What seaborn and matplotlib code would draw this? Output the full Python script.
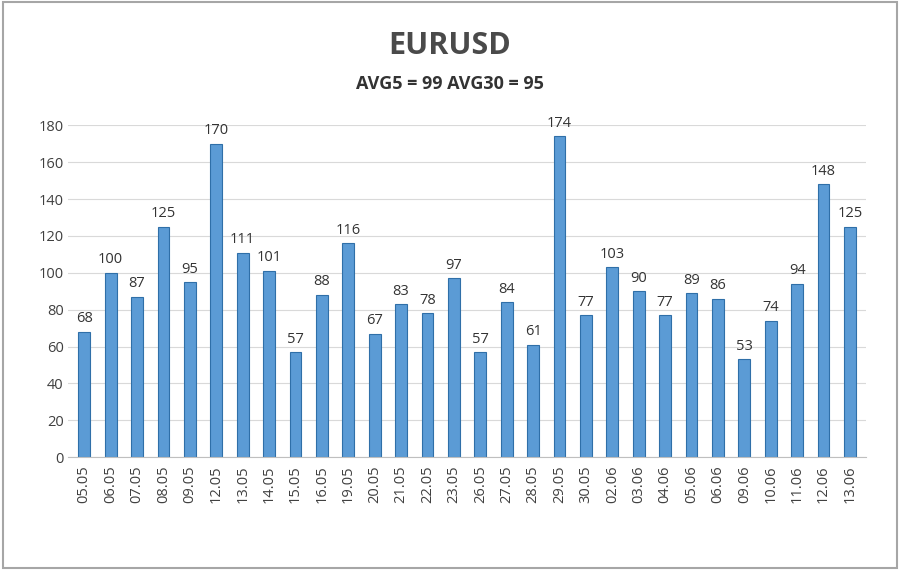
import matplotlib
matplotlib.use("Agg")
import matplotlib.pyplot as plt
import seaborn as sns
import pandas as pd
from matplotlib.patches import Rectangle

dates = ["05.05", "06.05", "07.05", "08.05", "09.05", "12.05", "13.05", "14.05", "15.05", "16.05",
         "19.05", "20.05", "21.05", "22.05", "23.05", "26.05", "27.05", "28.05", "29.05", "30.05",
         "02.06", "03.06", "04.06", "05.06", "06.06", "09.06", "10.06", "11.06", "12.06", "13.06"]
values = [68, 100, 87, 125, 95, 170, 111, 101, 57, 88,
          116, 67, 83, 78, 97, 57, 84, 61, 174, 77,
          103, 90, 77, 89, 86, 53, 74, 94, 148, 125]
yticks = list(range(0, 181, 20))

df = pd.DataFrame({"date": dates, "value": values})

plt.rc("font", family="Open Sans")
fig = plt.figure(figsize=(9, 5.7), dpi=100)
ax = fig.add_axes([0.076, 0.198, 0.886, 0.582])

sns.barplot(data=df, x="date", y="value", color="#5b9bd5", width=0.45,
            edgecolor="#2f6fa8", linewidth=0.8, saturation=1, ax=ax)

for i, v in enumerate(values):
    ax.text(i, v + 3, str(v), ha="center", va="bottom", fontsize=10.5, color="#333333")

ax.set_ylim(0, 180)
ax.set_yticks(yticks)
ax.set_xlim(-0.6, len(values) - 0.4)
ax.grid(axis="y", color="#d9d9d9", linewidth=0.8)
ax.set_axisbelow(True)
for s in ["top", "right", "left"]:
    ax.spines[s].set_visible(False)
ax.spines["bottom"].set_color("#bfbfbf")
ax.tick_params(axis="both", length=0, labelsize=10.5, colors="#404040")
ax.tick_params(axis="x", rotation=90, pad=6)
ax.set_xlabel("")
ax.set_ylabel("")

fig.text(0.5, 0.92, "EURUSD", ha="center", va="center", fontsize=22, fontweight="bold", color="#4a4a4a")
fig.text(0.5, 0.852, "AVG5 = 99 AVG30 = 95", ha="center", va="center", fontsize=13, fontweight="bold", color="#333333")

fig.patches.append(Rectangle((0.003, 0.004), 0.994, 0.992, transform=fig.transFigure,
                             fill=False, edgecolor="#a6a6a6", linewidth=1.5))

fig.savefig("out.png", dpi=100)
